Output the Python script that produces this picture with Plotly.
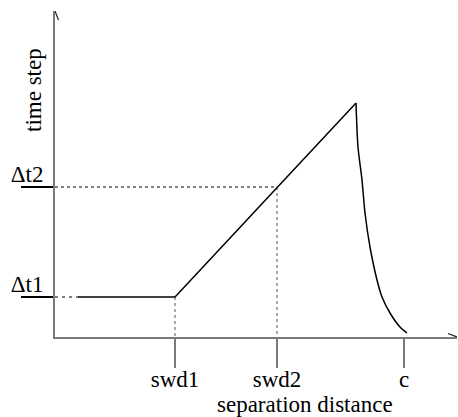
import plotly.graph_objects as go

# ---- data (abstract units) ----
x_tick_labels = ["swd1", "swd2", "c"]
x_tick_values = [1.20, 2.22, 3.49]
y_tick_labels = ["Δt1", "Δt2"]
y_tick_values = [0.40, 1.50]

# piecewise-linear part: flat start, swd1, peak
line_x = [0.23, 1.20, 3.01]
line_y = [0.40, 0.40, 2.34]

# decaying part after the peak
curve_x = [3.01, 3.03, 3.07, 3.10, 3.15, 3.22, 3.27, 3.35, 3.45, 3.52]
curve_y = [2.34, 1.90, 1.57, 1.24, 0.90, 0.57, 0.40, 0.24, 0.10, 0.04]

x_title = "separation distance"
y_title = "time step"

x_max = 4.02
y_max = 3.26

AXIS_GRAY = "#7a7a7a"
FONT = "'Liberation Serif', 'Times New Roman', Times, serif"
FS = 23

SWD1, SWD2, C = x_tick_values
DT1, DT2 = y_tick_values

fig = go.Figure()

# guide lines
fig.add_trace(go.Scatter(x=[0, SWD2], y=[DT2, DT2], mode="lines",
                         line=dict(color="black", width=1, dash="dot"), hoverinfo="skip"))
fig.add_trace(go.Scatter(x=[SWD2, SWD2], y=[DT2, 0], mode="lines",
                         line=dict(color="#555555", width=1, dash="dot"), hoverinfo="skip"))
fig.add_trace(go.Scatter(x=[0, line_x[0]], y=[DT1, DT1], mode="lines",
                         line=dict(color="black", width=1, dash="3px,4px"), hoverinfo="skip"))
fig.add_trace(go.Scatter(x=[SWD1, SWD1], y=[DT1, 0], mode="lines",
                         line=dict(color="#555555", width=1, dash="dot"), hoverinfo="skip"))

# main curve
fig.add_trace(go.Scatter(x=line_x, y=line_y, mode="lines",
                         line=dict(color="black", width=1.5), hoverinfo="skip"))
fig.add_trace(go.Scatter(x=curve_x, y=curve_y, mode="lines",
                         line=dict(color="black", width=1.5, shape="spline", smoothing=0.8),
                         hoverinfo="skip"))

# arrow heads at axis ends
ah = 0.09
aw = 0.035
fig.add_trace(go.Scatter(x=[x_max - ah, x_max, x_max - ah], y=[aw, 0, -aw], mode="lines",
                         line=dict(color="#222222", width=1.2), cliponaxis=False, hoverinfo="skip"))
fig.add_trace(go.Scatter(x=[-aw, 0, aw], y=[y_max - ah, y_max, y_max - ah], mode="lines",
                         line=dict(color="#222222", width=1.2), cliponaxis=False, hoverinfo="skip"))

fig.update_layout(
    width=458, height=417,
    margin=dict(l=55, r=1, t=11, b=80),
    paper_bgcolor="white", plot_bgcolor="white",
    showlegend=False,
    font=dict(family=FONT, size=FS, color="black"),
    xaxis=dict(range=[0, x_max], showgrid=False, zeroline=False,
               showline=True, linecolor=AXIS_GRAY, linewidth=2,
               tickmode="array", tickvals=x_tick_values, ticktext=x_tick_labels,
               ticks="outside", ticklen=29, tickwidth=2, tickcolor=AXIS_GRAY,
               ticklabelstandoff=-9,
               tickfont=dict(family=FONT, size=FS, color="black")),
    yaxis=dict(range=[0, y_max], showgrid=False, zeroline=False,
               showline=True, linecolor=AXIS_GRAY, linewidth=2,
               tickmode="array", tickvals=y_tick_values, ticktext=y_tick_labels,
               ticks="outside", ticklen=32, tickwidth=1.5, tickcolor="black",
               ticklabelstandoff=-27, ticklabelshift=-13,
               tickfont=dict(family=FONT, size=FS, color="black")),
    annotations=[
        dict(text=y_title, x=(33 - 55) / 402, y=(337 - 90) / 326, xref="paper", yref="paper",
             showarrow=False, textangle=-90, xanchor="center", yanchor="middle",
             font=dict(family=FONT, size=FS, color="black")),
        dict(text=x_title, x=(305 - 55) / 402, y=(337 - 404) / 326, xref="paper", yref="paper",
             showarrow=False, xanchor="center", yanchor="middle",
             font=dict(family=FONT, size=FS, color="black")),
    ],
)

fig.write_html("out.html")
